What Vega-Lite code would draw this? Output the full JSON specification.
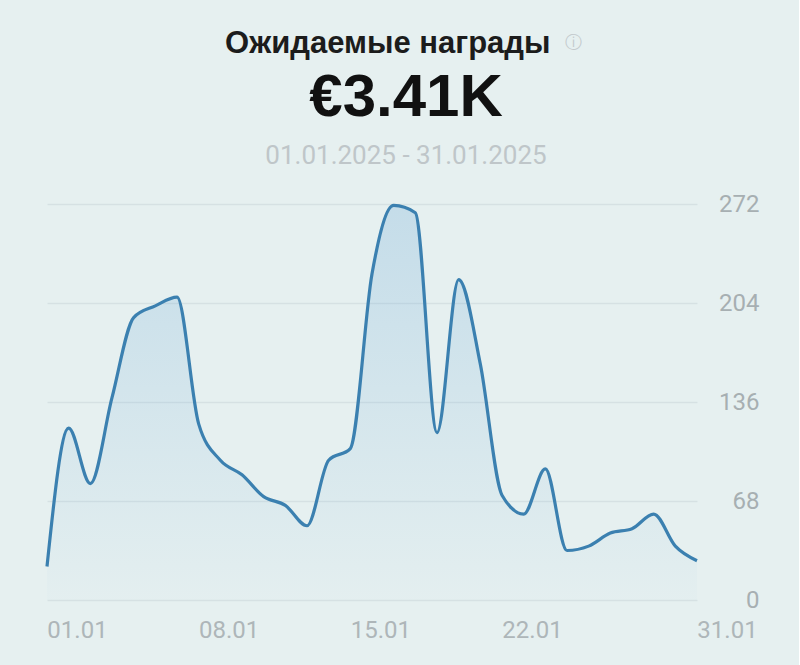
{
  "$schema": "https://vega.github.io/schema/vega-lite/v6.json",
  "background": "#e6f0f0",
  "padding": {"left": 40, "top": 28, "right": 40, "bottom": 40},
  "title": {
    "text": "ⓘ",
    "anchor": "middle",
    "font": "DejaVu Sans",
    "fontSize": 17,
    "fontWeight": "normal",
    "color": "#c3cacd",
    "offset": -24,
    "dx": 174
  },
  "config": {
    "view": {"stroke": null},
    "concat": {"spacing": 0}
  },
  "vconcat": [
    {
      "title": {
        "text": "Ожидаемые награды",
        "anchor": "middle",
        "font": "Liberation Sans",
        "fontSize": 31,
        "fontWeight": "bold",
        "color": "#1c1c1c",
        "offset": 8,
        "dx": -12
      },
      "vconcat": [
        {
          "width": 650,
          "height": 396,
          "title": {
            "text": "€3.41K",
            "subtitle": "01.01.2025 - 31.01.2025",
            "anchor": "middle",
            "frame": "group",
            "font": "Liberation Sans",
            "fontSize": 60,
            "fontWeight": "bold",
            "color": "#111111",
            "subtitleFont": "Roboto",
            "subtitleFontSize": 26,
            "subtitleColor": "#bfc6c9",
            "subtitlePadding": 14,
            "offset": 22,
            "dx": 34
          },
          "data": {
            "values": [
              {"day": 1, "value": 23},
              {"day": 2, "value": 118},
              {"day": 3, "value": 80},
              {"day": 4, "value": 139},
              {"day": 5, "value": 194},
              {"day": 6, "value": 202},
              {"day": 7, "value": 208},
              {"day": 8, "value": 121},
              {"day": 9, "value": 96},
              {"day": 10, "value": 86},
              {"day": 11, "value": 71},
              {"day": 12, "value": 65},
              {"day": 13, "value": 51},
              {"day": 14, "value": 96},
              {"day": 15, "value": 104},
              {"day": 16, "value": 224},
              {"day": 17, "value": 271},
              {"day": 18, "value": 266},
              {"day": 19, "value": 115},
              {"day": 20, "value": 220},
              {"day": 21, "value": 162},
              {"day": 22, "value": 72},
              {"day": 23, "value": 59},
              {"day": 24, "value": 90},
              {"day": 25, "value": 34},
              {"day": 26, "value": 37},
              {"day": 27, "value": 46},
              {"day": 28, "value": 49},
              {"day": 29, "value": 59},
              {"day": 30, "value": 37},
              {"day": 31, "value": 27}
            ]
          },
          "encoding": {
            "x": {
              "field": "day",
              "type": "quantitative",
              "scale": {"domain": [1, 31], "nice": false, "zero": false},
              "axis": {
                "title": null,
                "values": [1, 8, 15, 22, 31],
                "labelExpr": "(datum.value < 10 ? '0' : '') + datum.value + '.01'",
                "domain": false,
                "ticks": false,
                "grid": false,
                "labelFlush": false,
                "labelOffset": 30,
                "labelPadding": 18,
                "labelFont": "Roboto",
                "labelFontSize": 24,
                "labelColor": "#aeb6b9"
              }
            },
            "y": {
              "field": "value",
              "type": "quantitative",
              "scale": {"domain": [0, 272], "nice": false},
              "axis": {
                "title": null,
                "orient": "right",
                "values": [0, 68, 136, 204, 272],
                "domain": false,
                "ticks": false,
                "grid": true,
                "gridColor": "#d6e1e3",
                "gridWidth": 1.5,
                "labelAlign": "right",
                "labelPadding": 62,
                "labelFont": "Roboto",
                "labelFontSize": 24,
                "labelColor": "#a7afb2"
              }
            }
          },
          "layer": [
            {
              "mark": {
                "type": "area",
                "interpolate": "monotone",
                "color": {
                  "x1": 0, "y1": 0, "x2": 0, "y2": 1,
                  "gradient": "linear",
                  "stops": [
                    {"offset": 0, "color": "rgba(110,170,215,0.28)"},
                    {"offset": 1, "color": "rgba(110,170,215,0.02)"}
                  ]
                }
              }
            },
            {
              "mark": {
                "type": "line",
                "interpolate": "monotone",
                "color": "#3b80b0",
                "strokeWidth": 3.2
              }
            }
          ]
        }
      ]
    }
  ]
}
